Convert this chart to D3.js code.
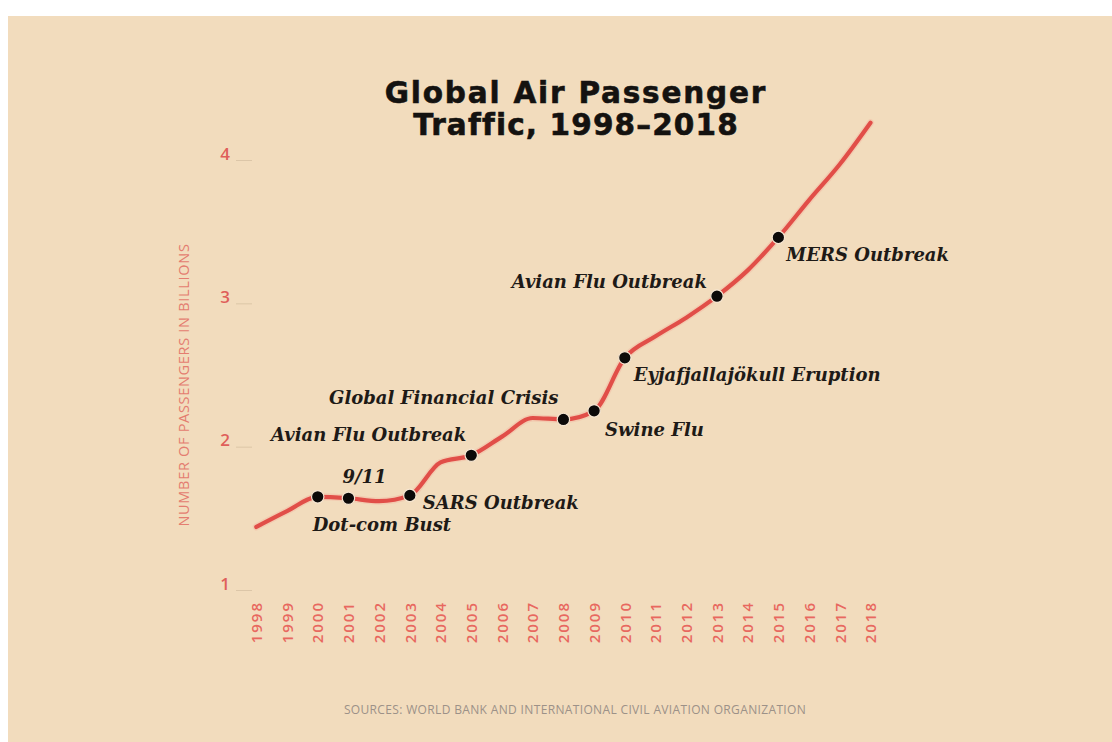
<!DOCTYPE html>
<html>
<head>
<meta charset="utf-8">
<script src="https://cdn.jsdelivr.net/npm/d3@7"></script>
<style>
  html, body { margin: 0; padding: 0; background: #ffffff; }
  svg { display: block; }
</style>
</head>
<body>
<svg id="chart" width="1112" height="742"></svg>
<script>
// Global air passengers, billions, 1998–2018
const years = [1998, 1999, 2000, 2001, 2002, 2003, 2004, 2005, 2006, 2007, 2008,
               2009, 2010, 2011, 2012, 2013, 2014, 2015, 2016, 2017, 2018];
const passengers = [1.44, 1.55, 1.65, 1.64, 1.62, 1.66, 1.89, 1.94, 2.07, 2.20, 2.19,
                    2.25, 2.62, 2.77, 2.90, 3.05, 3.23, 3.46, 3.72, 3.97, 4.26];
const yTicks = [1, 2, 3, 4];

// Marked events along the line
const eventYears = [2000, 2001, 2003, 2005, 2008, 2009, 2010, 2013, 2015];
const eventLabels = ["Dot-com Bust", "9/11", "SARS Outbreak", "Avian Flu Outbreak",
                     "Global Financial Crisis", "Swine Flu", "Eyjafjallajökull Eruption",
                     "Avian Flu Outbreak", "MERS Outbreak"];

const titleLines = ["Global Air Passenger", "Traffic, 1998–2018"];
const yTitle = "NUMBER OF PASSENGERS IN BILLIONS";
const sourceText = "SOURCES: WORLD BANK AND INTERNATIONAL CIVIL AVIATION ORGANIZATION";

const svg = d3.select("#chart");

// Panel
svg.append("rect").attr("x", 8).attr("y", 16).attr("width", 1104).attr("height", 726)
  .attr("fill", "#f2dcbd");

const x = d3.scaleLinear().domain([1998, 2018]).range([256.3, 870.5]);
const y = d3.scaleLinear().domain([1, 4]).range([590, 160]);

// Title, two lines with their own tracking
const titleSpacing = [1.8, 1.15];
svg.append("g").selectAll("text").data(titleLines).join("text")
  .attr("x", 576)
  .attr("y", (d, i) => 103 + i * 32)
  .attr("text-anchor", "middle")
  .attr("font-family", "'DejaVu Sans', sans-serif")
  .attr("font-weight", 700)
  .attr("font-size", 29.5)
  .attr("letter-spacing", (d, i) => titleSpacing[i])
  .attr("fill", "#141210")
  .attr("stroke", "#141210")
  .attr("stroke-width", 0.6)
  .text(d => d);

// Y axis
const yAxis = svg.append("g")
  .attr("transform", "translate(252,0)")
  .call(d3.axisLeft(y).tickValues(yTicks).tickFormat(d3.format("d")).tickSize(16).tickPadding(6));
yAxis.select(".domain").remove();
yAxis.selectAll(".tick line").attr("stroke", "#dcc6a8").attr("stroke-width", 1);
yAxis.selectAll(".tick text")
  .attr("fill", "#df5f5a")
  .attr("font-family", "'Open Sans', sans-serif")
  .attr("font-weight", 600)
  .attr("font-size", 17)
  .attr("dy", "-0.05em");

// Y axis title
svg.append("text")
  .attr("transform", "translate(189,385) rotate(-90)")
  .attr("text-anchor", "middle")
  .attr("font-family", "'Open Sans', sans-serif")
  .attr("font-size", 14.5)
  .attr("letter-spacing", 0.7)
  .attr("fill", "#e47d70")
  .text(yTitle);

// X axis with rotated year labels
const xAxis = svg.append("g")
  .attr("transform", "translate(0,598)")
  .call(d3.axisBottom(x).tickValues(years).tickFormat(d3.format("d")).tickSize(0));
xAxis.select(".domain").remove();
xAxis.selectAll(".tick text")
  .attr("transform", "rotate(-90)")
  .attr("x", -3)
  .attr("y", 0)
  .attr("dy", "0.35em")
  .attr("text-anchor", "end")
  .attr("fill", "#e8685f")
  .attr("font-family", "'Open Sans', sans-serif")
  .attr("font-weight", 600)
  .attr("font-size", 15)
  .attr("letter-spacing", 2);

// Source note
svg.append("text")
  .attr("x", 575).attr("y", 714)
  .attr("text-anchor", "middle")
  .attr("font-family", "'Open Sans', sans-serif")
  .attr("font-size", 12)
  .attr("letter-spacing", 0.35)
  .attr("fill", "#9c9188")
  .text(sourceText);

// Passenger line
const series = years.map((yr, i) => ({ year: yr, value: passengers[i] }));
const line = d3.line().x(d => x(d.year)).y(d => y(d.value)).curve(d3.curveMonotoneX);

svg.append("path").datum(series)
  .attr("d", line)
  .attr("fill", "none")
  .attr("stroke", "#f4b9a4")
  .attr("stroke-width", 7)
  .attr("stroke-opacity", 0.5)
  .attr("stroke-linecap", "round");
svg.append("path").datum(series)
  .attr("d", line)
  .attr("fill", "none")
  .attr("stroke", "#e14e48")
  .attr("stroke-width", 4.2)
  .attr("stroke-linejoin", "round")
  .attr("stroke-linecap", "round");

// Event markers and labels
const events = eventYears.map((yr, i) => ({
  year: yr,
  value: passengers[years.indexOf(yr)],
  label: eventLabels[i]
}));

// Label placement relative to each marker
const placement = [
  { dx: -5, dy: 34, anchor: "start" },
  { dx: -6, dy: -15, anchor: "start" },
  { dx: 13, dy: 14, anchor: "start" },
  { dx: -5, dy: -14, anchor: "end" },
  { dx: -5, dy: -15, anchor: "end" },
  { dx: 11, dy: 25, anchor: "start" },
  { dx: 9, dy: 23, anchor: "start" },
  { dx: -10, dy: -8, anchor: "end" },
  { dx: 8, dy: 24, anchor: "start" }
];

const marks = svg.append("g");
marks.selectAll("circle").data(events).join("circle")
  .attr("cx", d => x(d.year))
  .attr("cy", d => y(d.value))
  .attr("r", 6.2)
  .attr("fill", "#0c0a09")
  .attr("stroke", "#f6e6d2")
  .attr("stroke-width", 1.2);

marks.selectAll("text").data(events).join("text")
  .attr("x", (d, i) => x(d.year) + placement[i].dx)
  .attr("y", (d, i) => y(d.value) + placement[i].dy)
  .attr("text-anchor", (d, i) => placement[i].anchor)
  .attr("font-family", "'DejaVu Serif', serif")
  .attr("font-style", "italic")
  .attr("font-weight", 700)
  .attr("font-size", 18)
  .attr("fill", "#1e1a17")
  .text(d => d.label);
</script>
</body>
</html>
